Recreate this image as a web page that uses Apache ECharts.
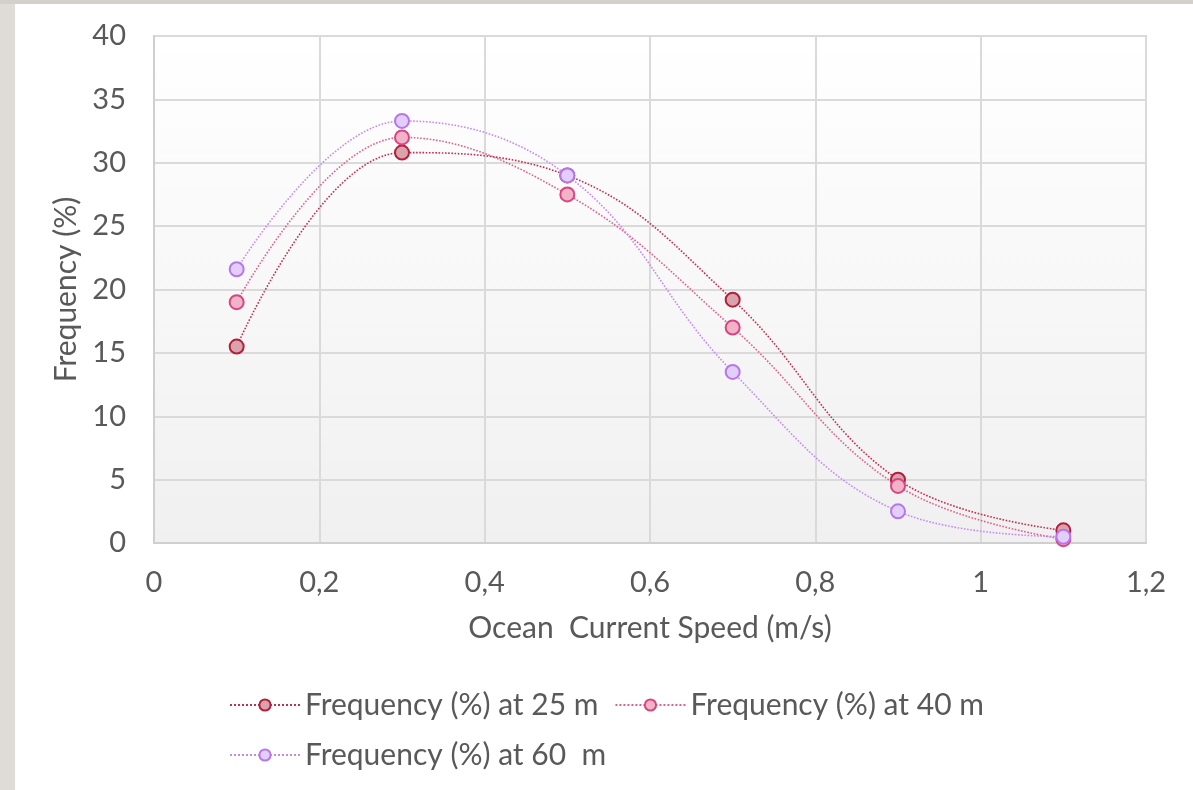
<!DOCTYPE html>
<html>
<head>
<meta charset="utf-8">
<script src="https://cdn.jsdelivr.net/npm/echarts@6/dist/echarts.min.js"></script>
<style>
  html, body { margin: 0; padding: 0; background: #fff; }
  #chart { width: 1193px; height: 790px; }
</style>
</head>
<body>
<div id="chart"></div>
<script>
// values
var speeds = [0.1, 0.3, 0.5, 0.7, 0.9, 1.1];
var freq25 = [15.5, 30.8, 29.0, 19.2, 5.0, 1.0];
var freq40 = [19.0, 32.0, 27.5, 17.0, 4.5, 0.3];
var freq60 = [21.6, 33.3, 29.0, 13.5, 2.5, 0.5];
var seriesNames = ['Frequency (%) at 25 m', 'Frequency (%) at 40 m', 'Frequency (%) at 60  m'];

function pairs(ys) {
  return speeds.map(function (x, i) { return [x, ys[i]]; });
}

function makeSeries(name, ys, line, fill, border) {
  return {
    name: name,
    type: 'line',
    smooth: 0.4,
    data: pairs(ys),
    symbol: 'circle',
    symbolSize: 14,
    lineStyle: { color: line, width: 1.6, type: 'dotted' },
    itemStyle: { color: fill, borderColor: border, borderWidth: 2 }
  };
}

var font = 'Lato, "Open Sans", sans-serif';
var textColor = '#595959';

var myChart = echarts.init(document.getElementById('chart'));
var option = {
  backgroundColor: '#fff',
  animation: false,
  textStyle: { fontFamily: font },
  graphic: [
    { type: 'rect', left: 0, top: 0, shape: { width: 15, height: 790 }, style: { fill: '#dfdcd7' } },
    { type: 'rect', left: 0, top: 0, shape: { width: 1193, height: 4 }, style: { fill: '#d3d0cb' } }
  ],
  grid: {
    left: 154,
    right: 47,
    top: 36,
    bottom: 247,
    show: true,
    borderColor: '#d6d6d6',
    borderWidth: 2,
    backgroundColor: new echarts.graphic.LinearGradient(0, 0, 0, 1, [
      { offset: 0, color: '#ffffff' },
      { offset: 1, color: '#f0f0f0' }
    ])
  },
  legend: {
    left: 224,
    top: 683,
    width: 780,
    itemWidth: 70,
    itemHeight: 14,
    itemGap: 16,
    textStyle: { fontSize: 30, lineHeight: 34, color: textColor, fontFamily: font },
    data: seriesNames
  },
  xAxis: {
    type: 'value',
    min: 0,
    max: 1.2,
    interval: 0.2,
    name: 'Ocean  Current Speed (m/s)',
    nameLocation: 'middle',
    nameGap: 70,
    nameTextStyle: { fontSize: 30, color: textColor },
    axisLine: { show: true, lineStyle: { color: '#cfcfcf', width: 2 } },
    axisTick: { show: false },
    axisLabel: {
      fontSize: 29,
      color: textColor,
      margin: 25,
      formatter: function (v) { return String(+v.toFixed(1)).replace('.', ','); }
    },
    splitLine: { lineStyle: { color: '#dadada', width: 2 } }
  },
  yAxis: {
    type: 'value',
    min: 0,
    max: 40,
    interval: 5,
    name: 'Frequency (%)',
    nameLocation: 'middle',
    nameGap: 71,
    nameTextStyle: { fontSize: 30, color: textColor },
    axisLine: { show: true, lineStyle: { color: '#cfcfcf', width: 2 } },
    axisTick: { show: false },
    axisLabel: { fontSize: 29, color: textColor, margin: 28 },
    splitLine: { lineStyle: { color: '#dadada', width: 2 } }
  },
  series: [
    makeSeries(seriesNames[0], freq25, '#c0304e', '#d9a3ab', '#b31f3c'),
    makeSeries(seriesNames[1], freq40, '#e0608f', '#f2b3c8', '#d8457f'),
    makeSeries(seriesNames[2], freq60, '#c78af2', '#e3cdfa', '#b677ea')
  ]
};
myChart.setOption(option);
</script>
</body>
</html>
